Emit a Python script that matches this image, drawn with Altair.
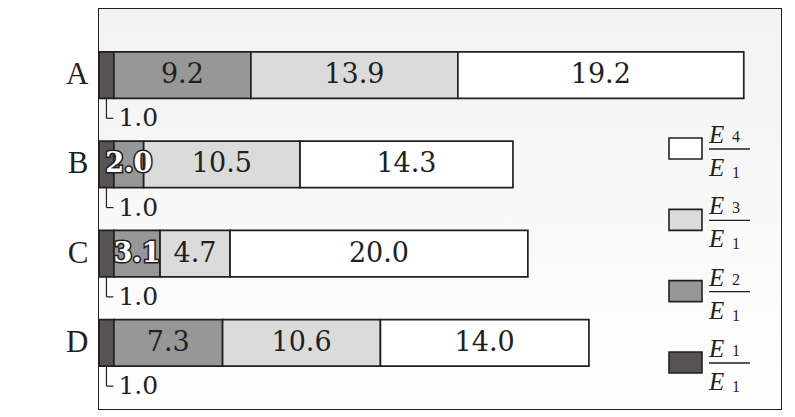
import altair as alt
import pandas as pd

# ---- data ----
categories = ["A", "B", "C", "D"]
series = ["E1/E1", "E2/E1", "E3/E1", "E4/E1"]
e1 = [1.0, 1.0, 1.0, 1.0]
e2 = [9.2, 2.0, 3.1, 7.3]
e3 = [13.9, 10.5, 4.7, 10.6]
e4 = [19.2, 14.3, 20.0, 14.0]
colors = ["#575354", "#979797", "#dbdbdb", "#ffffff"]

legend_items = ["E4/E1", "E3/E1", "E2/E1", "E1/E1"]
legend_num_sub = ["4", "3", "2", "1"]
legend_den_sub = ["1", "1", "1", "1"]
legend_letter = "E"

INK = "#231f20"
SERIF = "Liberation Serif"
NUMFONT = "DejaVu Serif"
W, H = 682, 400

rows = []
for i, c in enumerate(categories):
    start = 0.0
    for s, vals in zip(series, [e1, e2, e3, e4]):
        v = vals[i]
        rows.append(dict(cat=c, series=s, value=v, start=start, end=start + v,
                         mid=start + v / 2, label=f"{v:.1f}"))
        start += v
df = pd.DataFrame(rows)

leg = pd.DataFrame(dict(series=legend_items, num=legend_num_sub, den=legend_den_sub,
                        letter=[legend_letter] * 4))

xs = alt.Scale(domain=[0, 45.8], nice=False, zero=True)
ys = alt.Scale(type="band", domain=categories, paddingInner=0.48, paddingOuter=0.48)
cs = alt.Scale(domain=series, range=colors)
ls = alt.Scale(type="point", domain=legend_items, range=[139, 353], padding=0)

base = alt.Chart(df)

bg = alt.Chart(alt.Data(values=[{}])).mark_rect(
    color=alt.Gradient(gradient="linear",
                       stops=[alt.GradientStop(color="#f2f2f2", offset=0),
                              alt.GradientStop(color="#ffffff", offset=1)],
                       x1=0, x2=0, y1=0, y2=1)
).encode(x=alt.value(0), x2=alt.value(W), y=alt.value(0), y2=alt.value(H))

bars = base.mark_bar(stroke=INK, strokeWidth=1.7).encode(
    y=alt.Y("cat:N", scale=ys, title=None,
            axis=alt.Axis(ticks=False, domain=False, labelFont=SERIF, labelFontSize=31,
                          labelColor=INK, labelPadding=11, labelAngle=0)),
    x=alt.X("start:Q", scale=xs, axis=None),
    x2="end:Q",
    color=alt.Color("series:N", scale=cs, legend=None),
)

plain = base.transform_filter(
    "datum.series != 'E1/E1' && !(datum.series == 'E2/E1' && datum.value < 5)"
).mark_text(font=NUMFONT, fontSize=27, fontWeight=300, color=INK, baseline="middle").encode(
    x=alt.X("mid:Q", scale=xs, axis=None),
    y=alt.Y("cat:N", scale=ys, axis=None),
    text="label:N",
)

outlined = base.transform_filter("datum.series == 'E2/E1' && datum.value < 5")
out_stroke = outlined.mark_text(font=NUMFONT, fontSize=27, fontWeight="bold", baseline="middle",
                                stroke=INK, strokeWidth=3.2, fill=INK).encode(
    x=alt.X("mid:Q", scale=xs, axis=None),
    y=alt.Y("cat:N", scale=ys, axis=None),
    text="label:N",
)
out_fill = outlined.mark_text(font=NUMFONT, fontSize=27, fontWeight="bold", baseline="middle",
                              fill="#ffffff").encode(
    x=alt.X("mid:Q", scale=xs, axis=None),
    y=alt.Y("cat:N", scale=ys, axis=None),
    text="label:N",
)

first = base.transform_filter("datum.series == 'E1/E1'")
l_vert = first.mark_rule(color=INK, strokeWidth=1.2, y2Offset=20).encode(
    x=alt.X("mid:Q", scale=xs, axis=None),
    y=alt.Y("cat:N", scale=ys, axis=None, bandPosition=1),
    y2=alt.Y2("cat:N", bandPosition=1),
)
l_horiz = first.mark_rule(color=INK, strokeWidth=1.2, x2Offset=7, yOffset=20).encode(
    x=alt.X("mid:Q", scale=xs, axis=None),
    x2="mid:Q",
    y=alt.Y("cat:N", scale=ys, axis=None, bandPosition=1),
)
l_text = first.mark_text(font=NUMFONT, fontSize=25, color=INK, align="left",
                         baseline="alphabetic", dx=12, dy=28).encode(
    x=alt.X("mid:Q", scale=xs, axis=None),
    y=alt.Y("cat:N", scale=ys, axis=None, bandPosition=1),
    text="label:N",
)

lg = alt.Chart(leg)
sw = lg.mark_rect(stroke=INK, strokeWidth=1.6, yOffset=-10, y2Offset=11).encode(
    x=alt.value(570), x2=alt.value(603),
    y=alt.Y("series:N", scale=ls, axis=None), y2="series:N",
    color=alt.Color("series:N", scale=cs, legend=None),
)
frac = lg.mark_rule(color=INK, strokeWidth=1.3, yOffset=1).encode(
    x=alt.value(610), x2=alt.value(651),
    y=alt.Y("series:N", scale=ls, axis=None),
)
num_e = lg.mark_text(font=SERIF, fontStyle="italic", fontSize=25, color=INK,
                     align="left", baseline="alphabetic", dy=-5).encode(
    x=alt.value(610), y=alt.Y("series:N", scale=ls, axis=None), text="letter:N")
num_s = lg.mark_text(font=SERIF, fontSize=16, color=INK,
                     align="left", baseline="alphabetic", dy=-6).encode(
    x=alt.value(633), y=alt.Y("series:N", scale=ls, axis=None), text="num:N")
den_e = lg.mark_text(font=SERIF, fontStyle="italic", fontSize=25, color=INK,
                     align="left", baseline="alphabetic", dy=28).encode(
    x=alt.value(610), y=alt.Y("series:N", scale=ls, axis=None), text="letter:N")
den_s = lg.mark_text(font=SERIF, fontSize=16, color=INK,
                     align="left", baseline="alphabetic", dy=30).encode(
    x=alt.value(633), y=alt.Y("series:N", scale=ls, axis=None), text="den:N")

chart = alt.layer(
    bg, bars, plain, out_stroke, out_fill, l_vert, l_horiz, l_text,
    sw, frac, num_e, num_s, den_e, den_s
).resolve_scale(y="independent").properties(
    width=W, height=H,
    autosize=alt.AutoSizeParams(type="none"),
    padding={"left": 91, "top": 1, "right": 4, "bottom": 4},
).configure_view(stroke=INK, strokeWidth=2)

chart.save("out.html", embed_options={"renderer": "svg", "actions": False})
